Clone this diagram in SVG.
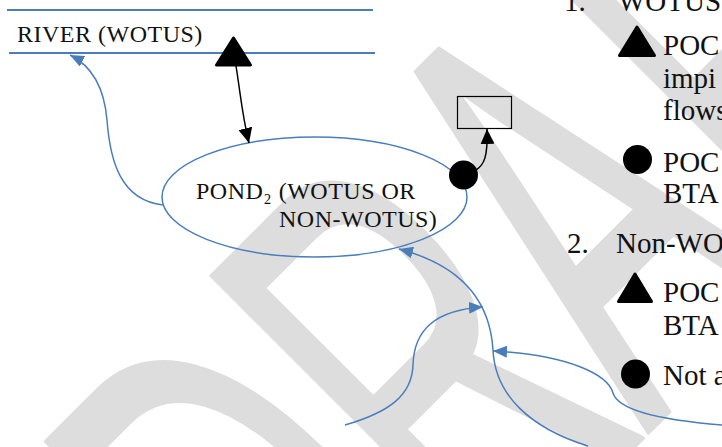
<svg xmlns="http://www.w3.org/2000/svg" width="722" height="447" viewBox="0 0 722 447">
<style>
.wm{font-family:"Liberation Sans",Arial,sans-serif;fill:#dddddd;stroke:#dddddd;stroke-width:4;stroke-linejoin:round}
.lbl{font-family:"Liberation Serif","Times New Roman",serif;font-size:24px;fill:#111;letter-spacing:0.5px}
.leg{font-family:"Liberation Serif","Times New Roman",serif;font-size:29px;fill:#111}
.blue{fill:none;stroke:#4A7EBB;stroke-width:1.5}
.blk{fill:none;stroke:#000;stroke-width:1.5}
.mark{fill:#000;stroke:#000;stroke-width:3;stroke-linejoin:round}
</style>
<defs>
<marker id="ab" viewBox="0 0 14 12" refX="14" refY="6" markerWidth="14" markerHeight="12" markerUnits="userSpaceOnUse" orient="auto"><path d="M0,0 L14,6 L0,12 z" fill="#4A7EBB"/></marker>
<marker id="ak" viewBox="0 0 15 14" refX="15" refY="7" markerWidth="15" markerHeight="14" markerUnits="userSpaceOnUse" orient="auto"><path d="M0,0 L15,7 L0,14 z" fill="#000"/></marker>
</defs>
<rect width="722" height="447" fill="#fff"/>
<text class="wm" font-size="610" transform="translate(507,574) rotate(-45) scale(0.53,1)" x="-490 -48 374.5 803 1169" y="0">DRAFT</text>

<g id="river">
<line x1="7" y1="10" x2="373" y2="10" stroke="#4A7EBB" stroke-width="1.8"/>
<line x1="9" y1="53" x2="375" y2="53" stroke="#4A7EBB" stroke-width="1.8"/>
<text class="lbl" x="17" y="42">RIVER (WOTUS)</text>
</g>

<g id="pond">
<ellipse cx="314.5" cy="197" rx="152.5" ry="60" fill="none" stroke="#4A7EBB" stroke-width="1.5"/>
<text class="lbl" x="196" y="199">POND₂ (WOTUS OR</text>
<text class="lbl" x="279" y="227">NON-WOTUS)</text>
</g>

<g id="box">
<rect x="457.5" y="96.5" width="54" height="32" fill="none" stroke="#000" stroke-width="1.2"/>
</g>

<g id="poc-triangle">
<path class="mark" d="M233.5,38 L250.5,65 L216.5,65 z"/>
</g>
<g id="poc-circle">
<circle cx="463.5" cy="175" r="14.5" fill="#000"/>
</g>

<g id="connectors">
<path class="blk" d="M236,66 C240,90 242,115 249,143" marker-end="url(#ak)"/>
<path class="blk" d="M476,170 C484,165 488,157 487,129" marker-end="url(#ak)"/>
<path class="blue" d="M163,205 C120,200 110,160 107,120 C104,85 90,65 70,55" marker-end="url(#ab)"/>
<path class="blue" d="M588,446 C530,428 495,395 493,350 C490,300 460,265 399,249" marker-end="url(#ab)"/>
<path class="blue" d="M345,425 C390,412 412,395 413,365 C414,330 435,310 483,307" marker-end="url(#ab)"/>
<path class="blue" d="M722,425 C660,420 618,410 613,393 C608,375 570,355 493,351" marker-end="url(#ab)"/>
</g>

<g id="legend">
<text class="leg" x="564" y="11">1.</text>
<text class="leg" x="618" y="11">WOTUS</text>
<path class="mark" d="M637,27 L654.5,55.5 L619.5,55.5 z"/>
<text class="leg" x="663" y="55">POC</text>
<text class="leg" x="663" y="88">impi</text>
<text class="leg" x="663" y="120">flows</text>
<circle cx="637.5" cy="159.5" r="14.5" fill="#000"/>
<text class="leg" x="663" y="172">POC</text>
<text class="leg" x="663" y="203">BTA</text>
<text class="leg" x="567" y="253">2.</text>
<text class="leg" x="616" y="253">Non-WO</text>
<path class="mark" d="M635,274 L651.5,301.5 L618.5,301.5 z"/>
<text class="leg" x="663" y="302">POC</text>
<text class="leg" x="663" y="335">BTA</text>
<circle cx="635.5" cy="374" r="14.5" fill="#000"/>
<text class="leg" x="663" y="385">Not a</text>
</g>
</svg>
